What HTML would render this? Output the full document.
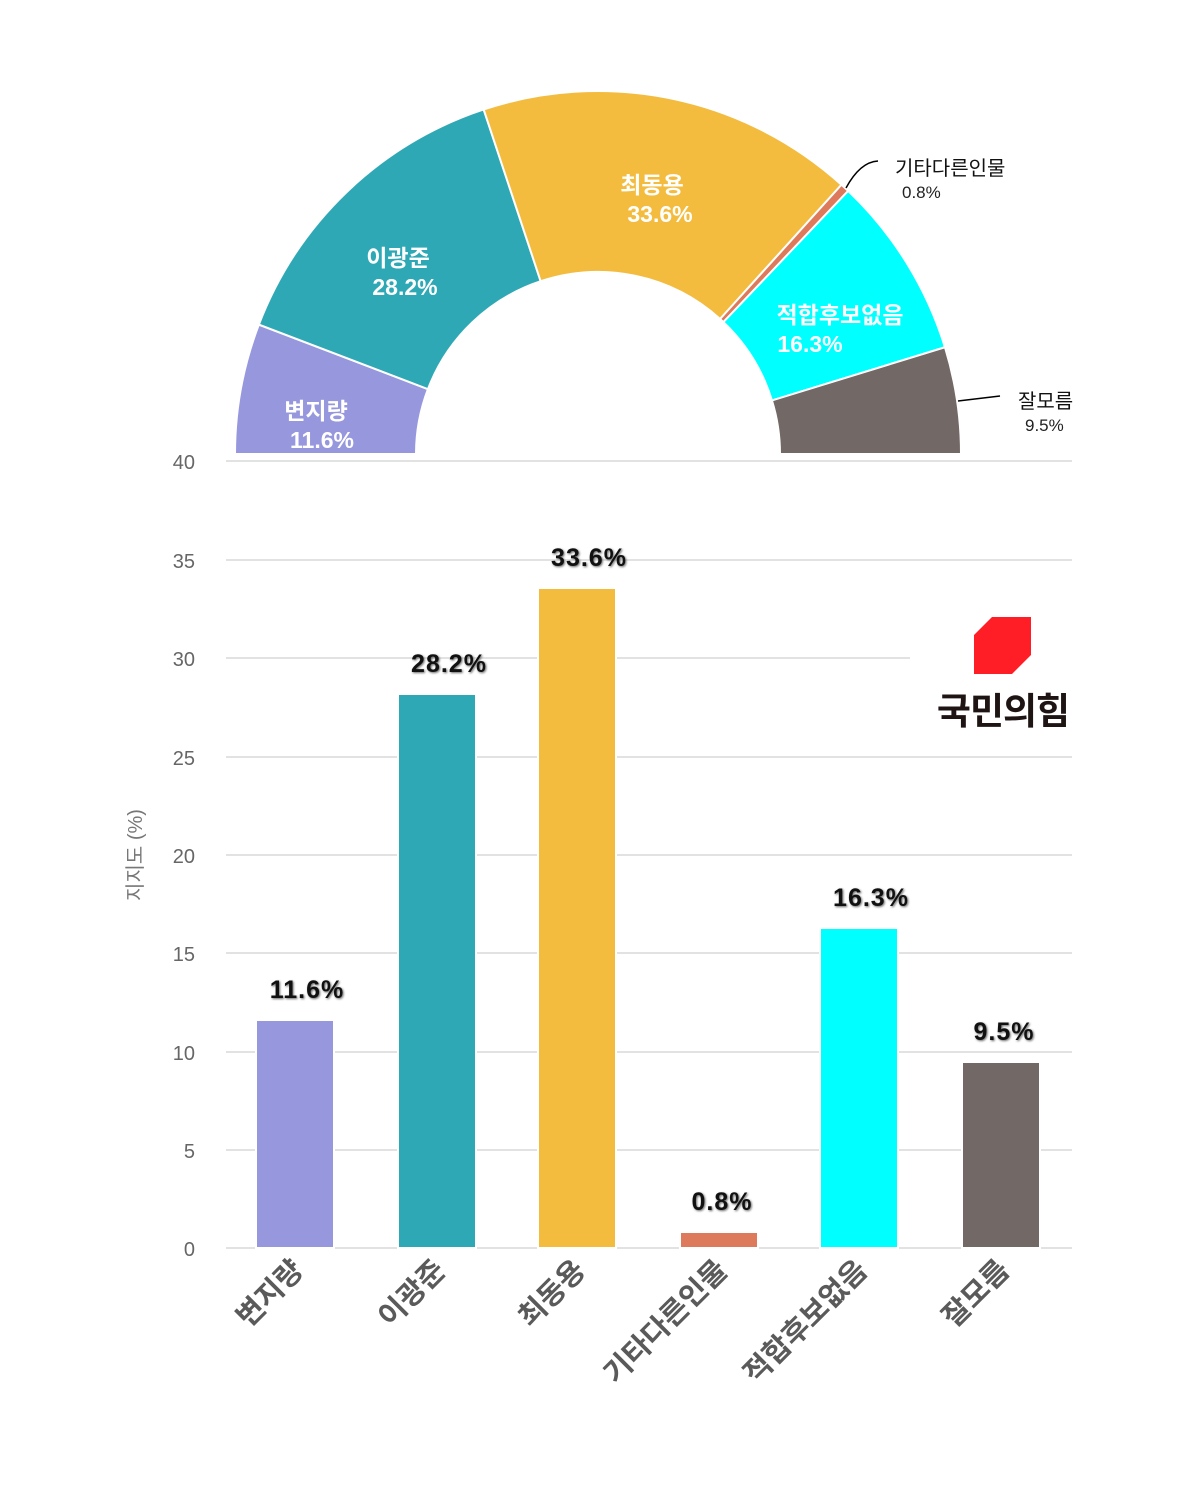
<!DOCTYPE html>
<html><head><meta charset="utf-8"><style>
body{margin:0;background:#fff;}
svg{display:block;font-family:"Liberation Sans","Noto Sans CJK KR",sans-serif;}
</style></head><body>
<svg id="s" width="1200" height="1500" viewBox="0 0 1200 1500">
<rect width="1200" height="1500" fill="#fff"/>
<defs><filter id="sh" x="-10%" y="-10%" width="120%" height="120%"><feGaussianBlur stdDeviation="1"/></filter></defs>
<g id="donut"></g>
<g fill="#fff" font-weight="bold" font-size="23" text-anchor="middle">
<text x="316" y="419">변지량</text><text x="322" y="448">11.6%</text>
<text x="398" y="266">이광준</text><text x="405" y="295">28.2%</text>
<text x="652" y="193">최동용</text><text x="660" y="222">33.6%</text>
<text x="840" y="323">적합후보없음</text><text x="810" y="352">16.3%</text>
</g>
<path d="M846,188 Q860,162 878,161" fill="none" stroke="#000" stroke-width="1.5"/>
<path d="M958,401 L1000,396" fill="none" stroke="#000" stroke-width="1.5"/>
<text x="895" y="175" font-size="20" fill="#111">기타다른인물</text>
<text x="902" y="198" font-size="17" fill="#222">0.8%</text>
<text x="1018" y="408" font-size="20" fill="#111">잘모름</text>
<text x="1025" y="431" font-size="17" fill="#222">9.5%</text>
<g stroke="#e2e2e2" stroke-width="2">
<line x1="226" x2="1072" y1="461" y2="461"/><line x1="226" x2="1072" y1="560" y2="560"/>
<line x1="226" x2="1072" y1="658" y2="658"/><line x1="226" x2="1072" y1="757" y2="757"/>
<line x1="226" x2="1072" y1="855" y2="855"/><line x1="226" x2="1072" y1="953" y2="953"/>
<line x1="226" x2="1072" y1="1052" y2="1052"/><line x1="226" x2="1072" y1="1150" y2="1150"/>
<line x1="226" x2="1072" y1="1248" y2="1248"/>
</g>
<g fill="#666" font-size="20" text-anchor="end">
<text x="195" y="469">40</text><text x="195" y="568">35</text><text x="195" y="666">30</text>
<text x="195" y="765">25</text><text x="195" y="863">20</text><text x="195" y="961">15</text>
<text x="195" y="1060">10</text><text x="195" y="1158">5</text><text x="195" y="1256">0</text>
</g>
<text transform="translate(142,855) rotate(-90)" text-anchor="middle" fill="#777" font-size="20">지지도 (%)</text>
<g stroke="#fff" stroke-width="2">
<rect x="256" y="1020" width="78" height="228" fill="#9797de"/>
<rect x="398" y="694" width="78" height="554" fill="#2fa8b6"/>
<rect x="538" y="588" width="78" height="660" fill="#f3bc3f"/>
<rect x="680" y="1232" width="78" height="16" fill="#dd7a5c"/>
<rect x="820" y="928" width="78" height="320" fill="#00ffff"/>
<rect x="962" y="1062" width="78" height="186" fill="#726866"/>
</g>
<g font-size="25" font-weight="bold" text-anchor="middle" letter-spacing="1">
<g fill="#666" filter="url(#sh)" transform="translate(1,1)">
<text x="307" y="998">11.6%</text><text x="449" y="672">28.2%</text><text x="589" y="566">33.6%</text>
<text x="722" y="1210">0.8%</text><text x="871" y="906">16.3%</text><text x="1004" y="1040">9.5%</text>
</g>
<g fill="#111">
<text x="307" y="998">11.6%</text><text x="449" y="672">28.2%</text><text x="589" y="566">33.6%</text>
<text x="722" y="1210">0.8%</text><text x="871" y="906">16.3%</text><text x="1004" y="1040">9.5%</text>
</g>
</g>
<g font-size="29" font-weight="bold" fill="#5a5a5a" text-anchor="end">
<text transform="translate(305,1272) rotate(-45)">변지량</text>
<text transform="translate(447,1272) rotate(-45)">이광준</text>
<text transform="translate(587,1272) rotate(-45)">최동용</text>
<text transform="translate(729,1272) rotate(-45)">기타다른인물</text>
<text transform="translate(869,1272) rotate(-45)">적합후보없음</text>
<text transform="translate(1011,1272) rotate(-45)">잘모름</text>
</g>
<rect x="910" y="600" width="170" height="150" fill="#fff"/>
<polygon points="992,617 1031,617 1031,655 1012,674 974,674 974,635" fill="#ff1e26"/>
<text x="1003" y="724" text-anchor="middle" font-size="37" font-weight="bold" fill="#1e1414" letter-spacing="-1">국민의힘</text>
</svg>
<script>
var cx=598,cy=454,R=363,r=182;
var vals=[11.6,28.2,33.6,0.8,16.3,9.5],cols=["#9797de","#2fa8b6","#f3bc3f","#dd7a5c","#00ffff","#726866"];
var g=document.getElementById("donut"),cum=0;
function p(a,rad){return [(cx+rad*Math.cos(a)).toFixed(2),(cy-rad*Math.sin(a)).toFixed(2)];}
for(var i=0;i<6;i++){
 var a0=Math.PI*(1-cum/100);cum+=vals[i];var a1=Math.PI*(1-cum/100);
 var o0=p(a0,R),o1=p(a1,R),i1=p(a1,r),i0=p(a0,r);
 var d="M"+o0+" A"+R+","+R+" 0 0 1 "+o1+" L"+i1+" A"+r+","+r+" 0 0 0 "+i0+"Z";
 var el=document.createElementNS("http://www.w3.org/2000/svg","path");
 el.setAttribute("d",d);el.setAttribute("fill",cols[i]);el.setAttribute("stroke","#fff");el.setAttribute("stroke-width","2");
 g.appendChild(el);
}
</script>
</body></html>
